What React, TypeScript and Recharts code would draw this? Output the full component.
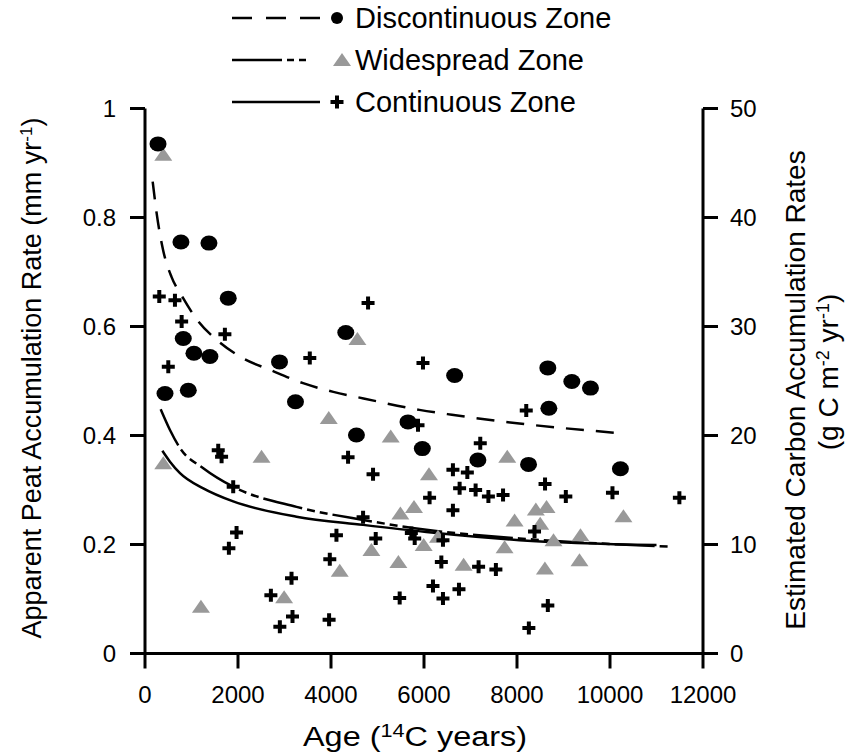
import React from "react";
import { ComposedChart, Scatter, Line, XAxis, YAxis } from "recharts";

const FONT = "'Liberation Sans', Arial, Helvetica, sans-serif";

const ageTicks = [0, 2000, 4000, 6000, 8000, 10000, 12000];
const rateTicks = [0, 0.2, 0.4, 0.6, 0.8, 1];
const carbonTicks = [0, 10, 20, 30, 40, 50];

// Discontinuous zone (black circles)
const discAge = [280, 773, 1375, 1790, 823, 1052, 1396, 4318, 2893, 430, 931, 3236, 4547, 5656, 5964, 6659, 8663, 9179, 9580, 8685, 7159, 8248, 10224];
const discRate = [0.935, 0.755, 0.753, 0.652, 0.578, 0.551, 0.545, 0.589, 0.535, 0.477, 0.483, 0.462, 0.401, 0.425, 0.376, 0.51, 0.524, 0.499, 0.487, 0.45, 0.355, 0.347, 0.339];

// Widespread zone (grey triangles)
const wideAge = [393, 4568, 393, 2506, 3952, 5284, 6107, 5785, 5492, 5993, 6301, 4869, 5449, 4188, 2992, 1203, 6852, 7790, 7948, 7733, 8405, 8635, 8499, 8785, 8600, 9365, 9344, 10289];
const wideRate = [0.915, 0.577, 0.349, 0.361, 0.432, 0.398, 0.329, 0.269, 0.257, 0.199, 0.214, 0.19, 0.168, 0.152, 0.103, 0.086, 0.163, 0.361, 0.244, 0.195, 0.264, 0.269, 0.238, 0.208, 0.156, 0.217, 0.171, 0.252];

// Continuous zone (crosses)
const contAge = [307, 644, 788, 501, 1718, 4797, 3544, 5978, 1575, 1647, 1897, 1969, 1804, 4367, 4904, 5871, 6120, 4690, 4117, 4962, 5728, 5800, 3974, 3151, 2707, 3172, 2900, 3959, 5477, 6193, 6373, 6408, 6752, 7174, 7546, 8199, 7210, 6622, 6932, 6766, 7110, 7385, 7700, 6622, 8603, 9050, 10053, 11492, 8377, 8663, 8255, 6408];
const contRate = [0.655, 0.648, 0.609, 0.526, 0.586, 0.643, 0.542, 0.533, 0.373, 0.361, 0.306, 0.222, 0.193, 0.36, 0.329, 0.419, 0.286, 0.25, 0.217, 0.211, 0.221, 0.211, 0.173, 0.138, 0.107, 0.068, 0.049, 0.062, 0.102, 0.124, 0.168, 0.101, 0.118, 0.159, 0.154, 0.446, 0.386, 0.337, 0.332, 0.303, 0.3, 0.288, 0.291, 0.263, 0.311, 0.288, 0.295, 0.286, 0.224, 0.088, 0.047, 0.208];

// fitted curves
const discFitAge = [165, 250, 390, 570, 800, 1150, 1550, 2100, 2700, 3400, 4050, 4700, 5900, 6600, 8050, 10250];
const discFitRate = [0.866, 0.808, 0.74, 0.691, 0.655, 0.609, 0.575, 0.542, 0.52, 0.496, 0.48, 0.468, 0.447, 0.438, 0.422, 0.404];
const wideFitAge = [337, 537, 752, 1253, 1897, 3258, 4690, 6050, 8055, 11340];
const wideFitRate = [0.448, 0.41, 0.377, 0.34, 0.306, 0.269, 0.245, 0.227, 0.211, 0.196];
const contFitAge = [373, 537, 752, 1253, 1897, 3258, 4690, 6050, 8055, 11000];
const contFitRate = [0.372, 0.352, 0.331, 0.303, 0.279, 0.251, 0.236, 0.223, 0.208, 0.199];

const pts = (ages: number[], rates: number[]) => ages.map((age, i) => ({ age, rate: rates[i] }));

const Dot = (p: any) => <ellipse cx={p.cx} cy={p.cy} rx={8.5} ry={7.5} fill="#000" />;
const Tri = (p: any) => (
  <polygon points={`${p.cx},${p.cy - 7} ${p.cx + 9},${p.cy + 6} ${p.cx - 9},${p.cy + 6}`} fill="#999" />
);
const Plus = (p: any) => (
  <path d={`M${p.cx - 6.5},${p.cy}H${p.cx + 6.5}M${p.cx},${p.cy - 6.5}V${p.cy + 6.5}`} stroke="#000" strokeWidth={4} />
);

const XTitle = () => (
  <text x={415} y={746} textAnchor="middle" fontSize={27} fontFamily={FONT} fill="#000" textLength={224} lengthAdjust="spacingAndGlyphs">
    Age (<tspan dy={-9} fontSize={18}>14</tspan>
    <tspan dy={9}>C years)</tspan>
  </text>
);

const LeftTitle = () => (
  <text x={41} y={378} transform="rotate(-90, 41, 378)" textAnchor="middle" fontSize={27} fontFamily={FONT} fill="#000">
    Apparent Peat Accumulation Rate (mm yr<tspan dy={-9} fontSize={17}>-1</tspan>
    <tspan dy={9}>)</tspan>
  </text>
);

const RightTitle = () => (
  <g fontFamily={FONT} fill="#000">
    <text x={805} y={390} transform="rotate(-90, 805, 390)" textAnchor="middle" fontSize={28}>
      Estimated Carbon Accumulation Rates
    </text>
    <text x={838} y={372} transform="rotate(-90, 838, 372)" textAnchor="middle" fontSize={28}>
      (g C m<tspan dy={-9} fontSize={18}>-2</tspan>
      <tspan dy={9}> yr</tspan>
      <tspan dy={-9} fontSize={18}>-1</tspan>
      <tspan dy={9}>)</tspan>
    </text>
  </g>
);

function LegendBox() {
  const rows = [
    { label: "Discontinuous Zone", y: 18, dash: "20 14", mark: "dot" },
    { label: "Widespread Zone", y: 60, dash: "50 5 7 5 7 100", mark: "tri" },
    { label: "Continuous Zone", y: 102, dash: undefined, mark: "plus" },
  ];
  return (
    <svg width={856} height={120} style={{ position: "absolute", left: 0, top: 0 }}>
      {rows.map((r) => (
        <g key={r.label}>
          <line x1={232} x2={320} y1={r.y} y2={r.y} stroke="#000" strokeWidth={2.5} strokeDasharray={r.dash} />
          {r.mark === "dot" && <circle cx={337} cy={r.y} r={6} fill="#000" />}
          {r.mark === "tri" && <Tri cx={342} cy={r.y} />}
          {r.mark === "plus" && <Plus cx={337} cy={r.y} />}
          <text x={355} y={r.y + 10} fontSize={29} fontFamily={FONT} fill="#000">
            {r.label}
          </text>
        </g>
      ))}
    </svg>
  );
}

const axisStroke = { stroke: "#000", strokeWidth: 3 };
const tickStyle = { fill: "#000", fontSize: 24, fontFamily: FONT };

export default function App() {
  return (
    <div style={{ position: "absolute", left: 0, top: 0, width: 856, height: 756, background: "#fff" }}>
      <ComposedChart width={856} height={756} margin={{ top: 108.5, right: 0, bottom: 0, left: 0 }}>
        <XAxis
          type="number"
          dataKey="age"
          domain={[0, 12000]}
          ticks={ageTicks}
          interval={0}
          height={102.5}
          tickSize={15}
          tickMargin={17}
          axisLine={axisStroke}
          tickLine={axisStroke}
          tick={tickStyle}
          label={<XTitle />}
        />
        <YAxis
          yAxisId="left"
          type="number"
          domain={[0, 1]}
          ticks={rateTicks}
          interval={0}
          width={145}
          tickSize={15}
          tickMargin={14}
          axisLine={axisStroke}
          tickLine={axisStroke}
          tick={tickStyle}
          label={<LeftTitle />}
        />
        <YAxis
          yAxisId="right"
          orientation="right"
          type="number"
          domain={[0, 50]}
          allowDataOverflow
          ticks={carbonTicks}
          interval={0}
          width={153}
          tickSize={15}
          tickMargin={12}
          axisLine={axisStroke}
          tickLine={axisStroke}
          tick={tickStyle}
          label={<RightTitle />}
        />
        <Scatter yAxisId="left" data={pts(wideAge, wideRate)} dataKey="rate" shape={Tri} isAnimationActive={false} />
        <Scatter yAxisId="left" data={pts(discAge, discRate)} dataKey="rate" shape={Dot} isAnimationActive={false} />
        <Scatter yAxisId="left" data={pts(contAge, contRate)} dataKey="rate" shape={Plus} isAnimationActive={false} />
        <Line yAxisId="left" data={pts(discFitAge, discFitRate)} dataKey="rate" type="monotone" stroke="#000" strokeWidth={2.5} strokeDasharray="18 12" dot={false} activeDot={false} isAnimationActive={false} />
        <Line yAxisId="left" data={pts(wideFitAge, wideFitRate)} dataKey="rate" type="monotone" stroke="#000" strokeWidth={2.5} strokeDasharray="40 5 8 5 8 5" dot={false} activeDot={false} isAnimationActive={false} />
        <Line yAxisId="left" data={pts(contFitAge, contFitRate)} dataKey="rate" type="monotone" stroke="#000" strokeWidth={2.5} dot={false} activeDot={false} isAnimationActive={false} />
      </ComposedChart>
      <LegendBox />
    </div>
  );
}
